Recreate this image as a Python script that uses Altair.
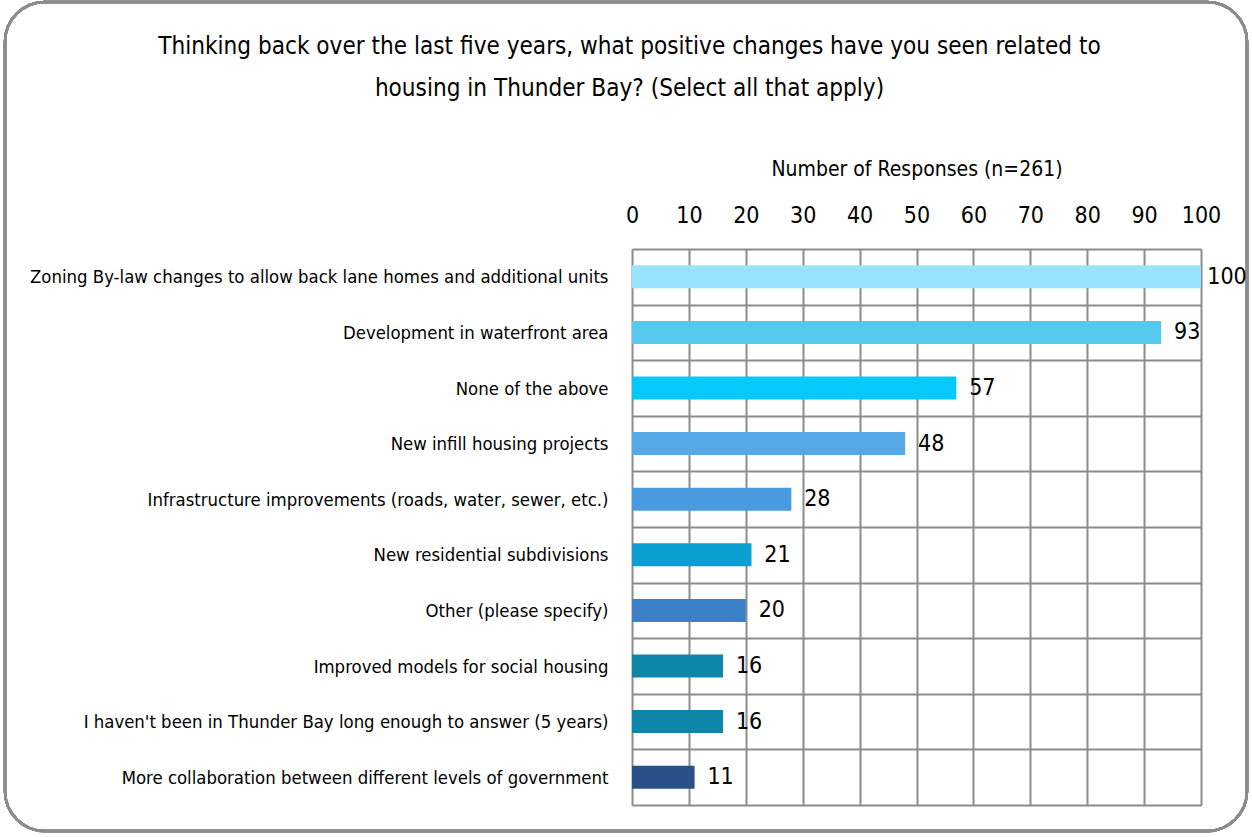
import altair as alt
import pandas as pd

categories = [
    "Zoning By-law changes to allow back lane homes and additional units",
    "Development in waterfront area",
    "None of the above",
    "New infill housing projects",
    "Infrastructure improvements (roads, water, sewer, etc.)",
    "New residential subdivisions",
    "Other (please specify)",
    "Improved models for social housing",
    "I haven't been in Thunder Bay long enough to answer (5 years)",
    "More collaboration between different levels of government",
]
values = [100, 93, 57, 48, 28, 21, 20, 16, 16, 11]
colors = ["#97E4FC", "#56C8EE", "#05C9FA", "#56A8E6", "#4A9ADF",
          "#0A9FCF", "#3B80C6", "#0D86AA", "#0D86AA", "#2A5088"]
x_ticks = [0, 10, 20, 30, 40, 50, 60, 70, 80, 90, 100]

FONT = "'DejaVu Sans Condensed', 'Liberation Sans Narrow', 'Open Sans', sans-serif"
GRID = "#8c8c8c"

df = pd.DataFrame({"category": categories, "value": values})

W, H = 569, 556
PAD = {"left": 632, "top": 249, "right": 1252 - 632 - W, "bottom": 837 - 249 - H}

y_enc = alt.Y("category:N", sort=categories,
              scale=alt.Scale(paddingInner=0, paddingOuter=0),
              axis=alt.Axis(title=None, grid=True, tickBand="extent", ticks=False,
                            domain=False, labelPadding=24, labelFontSize=18.4,
                            labelFont=FONT, labelColor="#000000", labelLimit=700,
                            gridColor=GRID, gridWidth=2))
x_enc = alt.X("value:Q", scale=alt.Scale(domain=[0, 100], nice=False),
              axis=alt.Axis(orient="top", values=x_ticks, title="Number of Responses (n=261)",
                            titleFont=FONT, titleFontSize=21, titleFontWeight="normal",
                            titleColor="#000000", titlePadding=25,
                            labelFont=FONT, labelFontSize=23, labelColor="#000000",
                            labelFlush=False, labelOverlap=False,
                            labelPadding=22, ticks=False, domain=False, grid=True,
                            gridColor=GRID, gridWidth=2))

bars = alt.Chart(df).mark_bar(size=23).encode(
    y=y_enc, x=x_enc,
    color=alt.Color("category:N", scale=alt.Scale(domain=categories, range=colors), legend=None),
)

labels = alt.Chart(df).mark_text(align="center", baseline="middle", dx=26,
                                 font=FONT, fontSize=23, color="#000000").encode(
    y=alt.Y("category:N", sort=categories),
    x=alt.X("value:Q"),
    text=alt.Text("value:Q"),
)

frame = alt.Chart(df).mark_rect(filled=False, stroke=GRID, strokeWidth=2.5,
                                cornerRadius=40).encode(
    x=alt.value(-627), x2=alt.value(615), y=alt.value(-247), y2=alt.value(582),
)

chart = alt.layer(frame, bars, labels).properties(
    width=W, height=H,
    padding=PAD,
    autosize=alt.AutoSizeParams(type="none"),
    title=alt.TitleParams(
        text=["Thinking back over the last five years, what positive changes have you seen related to",
              "housing in Thunder Bay? (Select all that apply)"],
        font=FONT, fontSize=24.1, fontWeight="normal", color="#000000",
        anchor="middle", frame="group", dx=-287, lineHeight=42, offset=0, dy=100,
    ),
).configure_view(stroke=GRID, strokeWidth=2.5).configure(background="#ffffff")

chart.save("out.html", embed_options={"renderer": "svg", "actions": False})
